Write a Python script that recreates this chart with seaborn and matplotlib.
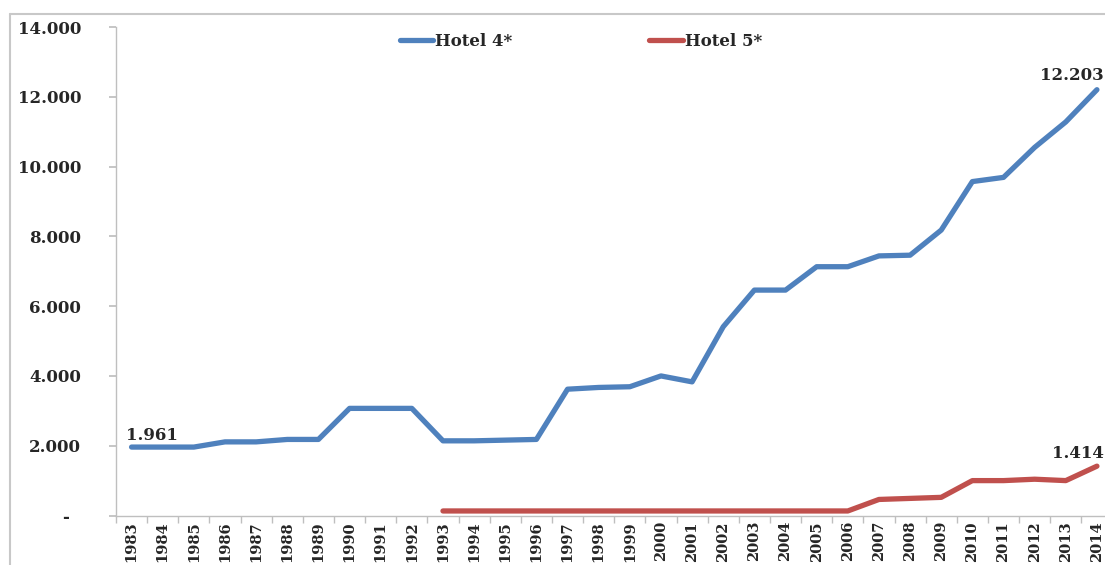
import numpy as np
import pandas as pd
import matplotlib
matplotlib.use("Agg")
import matplotlib.pyplot as plt
from matplotlib.lines import Line2D
import seaborn as sns

years = list(range(1983, 2015))
hotel4 = [1961, 1961, 1961, 2110, 2110, 2180, 2180, 3070, 3070, 3070,
          2140, 2140, 2160, 2180, 3620, 3670, 3690, 4000, 3830, 5410,
          6460, 6460, 7130, 7130, 7440, 7460, 8180, 9570, 9690, 10550,
          11280, 12203]
hotel5 = [np.nan] * 10 + [130] * 14 + [460, 490, 520, 1000, 1000, 1040, 1000, 1414]
series_names = ["Hotel 4*", "Hotel 5*"]
colors = ["#4F81BD", "#C0504D"]
yticks = [0, 2000, 4000, 6000, 8000, 10000, 12000, 14000]
ytick_labels = ["-  ", "2.000", "4.000", "6.000", "8.000", "10.000", "12.000", "14.000"]

sns.set_theme(style="white")
plt.rcParams["font.family"] = ["DejaVu Serif"]
plt.rcParams["font.weight"] = "bold"

df = pd.DataFrame({
    "idx": list(range(len(years))) * 2,
    "value": hotel4 + hotel5,
    "series": [series_names[0]] * len(years) + [series_names[1]] * len(years),
})

W, H = 1105, 565
fig = plt.figure(figsize=(W / 100, H / 100), dpi=100)
ax_left, ax_right = 116 / W, 1112.5 / W
ax_bottom, ax_top = 1 - 515.5 / H, 1 - 27 / H
ax = fig.add_axes([ax_left, ax_bottom, ax_right - ax_left, ax_top - ax_bottom])

sns.lineplot(data=df, x="idx", y="value", hue="series", palette=colors,
             linewidth=3.8, ax=ax, legend=False, solid_capstyle="round")

ax.set_xlim(-0.5, len(years) - 0.5)
ax.set_ylim(0, 14000)
ax.set_xlabel("")
ax.set_ylabel("")

for s in ["top", "right"]:
    ax.spines[s].set_visible(False)
for s in ["left", "bottom"]:
    ax.spines[s].set_color("#BFBFBF")
    ax.spines[s].set_linewidth(1.0)

txt_color = "#262626"
ax.set_yticks(yticks)
ax.set_yticklabels(ytick_labels, fontsize=12, fontweight="bold", color=txt_color)
ax.tick_params(axis="y", length=5, color="#BFBFBF", pad=20, left=True)

ax.set_xticks(range(len(years)))
ax.set_xticklabels([str(y) for y in years], rotation=90, fontsize=10.5,
                   fontweight="bold", color=txt_color)
ax.tick_params(axis="x", which="major", length=0, pad=4, bottom=True)
ax.set_xticks(np.arange(-0.5, len(years), 1.0), minor=True)
ax.tick_params(axis="x", which="minor", length=5, color="#BFBFBF", bottom=True)

# data labels
ax.annotate("1.961", (0, hotel4[0]), xytext=(-4, 2), textcoords="offset points",
            fontsize=12, fontweight="bold", ha="left", va="bottom", color=txt_color)
ax.annotate("12.203", (len(years) - 1, hotel4[-1]), xytext=(5, 4), textcoords="offset points",
            fontsize=12, fontweight="bold", ha="right", va="bottom", color=txt_color)
ax.annotate("1.414", (len(years) - 1, hotel5[-1]), xytext=(5, 3), textcoords="offset points",
            fontsize=12, fontweight="bold", ha="right", va="bottom", color=txt_color)

handles = [Line2D([0], [0], color=c, lw=3.8) for c in colors]
fig.legend(handles, series_names, loc="center", bbox_to_anchor=(581 / W, 1 - 41 / H),
           ncol=2, frameon=False, handlelength=2.0, handletextpad=0.15,
           columnspacing=8.2, prop={"weight": "bold", "size": 12})

# outer chart frame
fig.add_artist(Line2D([10 / W, 10 / W], [0, 1 - 14 / H], color="#C8C8C8", lw=1.5,
                      transform=fig.transFigure))
fig.add_artist(Line2D([10 / W, 1], [1 - 14 / H, 1 - 14 / H], color="#C8C8C8", lw=1.5,
                      transform=fig.transFigure))

fig.savefig("out.png", dpi=100)
